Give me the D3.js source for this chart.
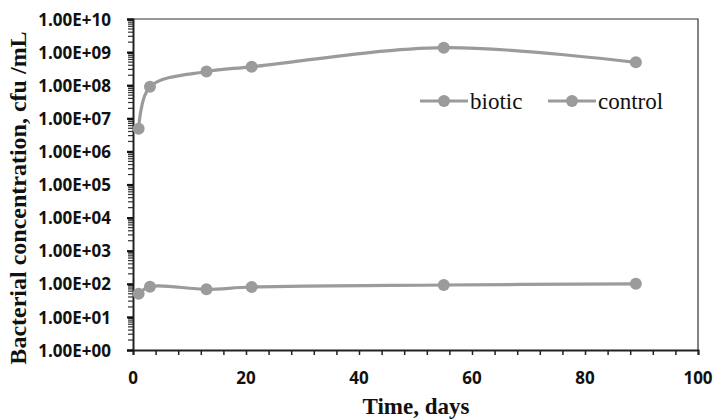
<!DOCTYPE html>
<html><head><meta charset="utf-8">
<script src="https://cdn.jsdelivr.net/npm/d3@7"></script>
<style>body{margin:0;background:#fff}</style>
</head><body>
<script>
const days = [1, 3, 13, 21, 55, 89];
const biotic = [4.8e6, 9e7, 2.6e8, 3.6e8, 1.36e9, 4.9e8];
const control = [50, 82, 68, 80, 92, 100];
const seriesNames = ["biotic", "control"];
const xTicks = [0, 20, 40, 60, 80, 100];
const yTickLabels = ["1.00E+00","1.00E+01","1.00E+02","1.00E+03","1.00E+04","1.00E+05","1.00E+06","1.00E+07","1.00E+08","1.00E+09","1.00E+10"];

const W = 717, H = 420;
const L = 133, R = 698, T = 19, B = 350;
const col = "#9b9b9b";
const tickFont = "'Open Sans', sans-serif";

const svg = d3.select("body").append("svg").attr("width", W).attr("height", H);
const x = d3.scaleLinear().domain([0, 100]).range([L, R]);
const y = d3.scaleLog().domain([1, 1e10]).range([B, T]);

// frame top/right
svg.append("path").attr("d", `M${L},${T}H${R}V${B}`).attr("fill","none").attr("stroke","#333").attr("stroke-width",1.2);

// x axis
const xMinor = d3.range(0, 101, 4);
const xg = svg.append("g").attr("transform", `translate(0,${B})`);
xg.call(d3.axisBottom(x).tickValues(xMinor).tickSize(5).tickFormat(""));
xg.select(".domain").attr("stroke","#222").attr("stroke-width",2);
xg.selectAll(".tick line").attr("stroke","#222").attr("stroke-width",1.5);
svg.append("g").selectAll("text").data(xTicks).join("text")
  .attr("x", d => x(d)).attr("y", 384).attr("text-anchor","middle")
  .attr("font-family",tickFont).attr("font-weight","bold").attr("font-size",17).attr("fill","#111")
  .text(d => d);

// y axis
const yMinor = [];
for (let e = 0; e < 10; e++) for (let m = 2; m <= 9; m++) yMinor.push(m * Math.pow(10, e));
const ymg = svg.append("g").attr("transform", `translate(${L},0)`);
ymg.selectAll("line").data(yMinor).join("line")
  .attr("x1", -5).attr("x2", 0).attr("y1", d => y(d)).attr("y2", d => y(d))
  .attr("stroke","#333").attr("stroke-width",1.2);
const yg = svg.append("g").attr("transform", `translate(${L},0)`);
const yMajor = yTickLabels.map((s, i) => Math.pow(10, i));
yg.call(d3.axisLeft(y).tickValues(yMajor).tickSize(6).tickFormat((d, i) => yTickLabels[i]));
yg.select(".domain").attr("stroke","#222").attr("stroke-width",2);
yg.selectAll(".tick line").attr("stroke","#111").attr("stroke-width",2.2);
yg.selectAll(".tick text").attr("x", -22).attr("dy","0.36em")
  .attr("font-family",tickFont).attr("font-weight","bold").attr("font-size",17).attr("fill","#111");

// series
const line = d3.line().x(d => x(d[0])).y(d => y(d[1])).curve(d3.curveCatmullRom.alpha(0.5));
[biotic, control].forEach(vals => {
  const pts = days.map((d, i) => [d, vals[i]]);
  svg.append("path").datum(pts).attr("d", line).attr("fill","none").attr("stroke",col).attr("stroke-width",3.2);
  svg.append("g").selectAll("circle").data(pts).join("circle")
    .attr("cx", d => x(d[0])).attr("cy", d => y(d[1])).attr("r", 6).attr("fill", col);
});

// legend
const legX = [420, 548];
seriesNames.forEach((n, i) => {
  const g = svg.append("g");
  g.append("line").attr("x1", legX[i]).attr("x2", legX[i] + 48).attr("y1", 101).attr("y2", 101).attr("stroke", col).attr("stroke-width", 3.2);
  g.append("circle").attr("cx", legX[i] + 24).attr("cy", 101).attr("r", 6).attr("fill", col);
  g.append("text").attr("x", legX[i] + 50).attr("y", 109).attr("font-family","Liberation Serif").attr("font-size",23).attr("fill","#111").text(n);
});

// axis titles
svg.append("text").attr("x", 416).attr("y", 414).attr("text-anchor","middle")
  .attr("font-family","Liberation Serif").attr("font-weight","bold").attr("font-size",23).attr("fill","#111").text("Time, days");
svg.append("text").attr("transform","translate(26,198) rotate(-90)").attr("text-anchor","middle")
  .attr("font-family","Liberation Serif").attr("font-weight","bold").attr("font-size",24).attr("fill","#111").text("Bacterial concentration, cfu /mL");
</script>
</body></html>
